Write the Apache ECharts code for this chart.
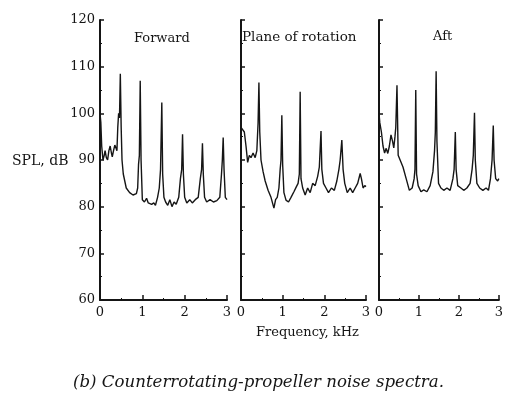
<!DOCTYPE html>
<html>
<head>
<meta charset="utf-8">
<script src="https://cdn.jsdelivr.net/npm/echarts@6/dist/echarts.min.js"></script>
<style>
  html, body { margin: 0; padding: 0; background: #ffffff; }
  #chart { width: 506px; height: 399px; }
</style>
</head>
<body>
<div id="chart"></div>
<script>
// ---- data ----
const panelTitles = ['Forward', 'Plane of rotation', 'Aft'];
const yTicks = [60, 70, 80, 90, 100, 110, 120];
const xTicks = [0, 1, 2, 3];

const forwardFreq = [0, 0.02, 0.04, 0.07, 0.10, 0.12, 0.15, 0.18, 0.21, 0.24, 0.27, 0.29, 0.32, 0.35, 0.38, 0.40, 0.42, 0.44, 0.46, 0.48, 0.50, 0.52, 0.55, 0.62, 0.70, 0.78, 0.86, 0.89, 0.91, 0.93, 0.95, 0.97, 1.00, 1.05, 1.10, 1.14, 1.18, 1.22, 1.27, 1.31, 1.36, 1.40, 1.43, 1.46, 1.48, 1.51, 1.55, 1.60, 1.65, 1.70, 1.75, 1.80, 1.86, 1.90, 1.93, 1.95, 1.97, 2.00, 2.05, 2.12, 2.18, 2.25, 2.32, 2.37, 2.40, 2.42, 2.44, 2.47, 2.52, 2.60, 2.68, 2.76, 2.83, 2.87, 2.89, 2.91, 2.93, 2.96, 3.00];
const forwardSpl  = [100, 98, 93, 90, 91, 92, 90.5, 90, 92, 93, 91.5, 90.7, 92, 93.2, 92.5, 92, 97, 100, 99, 108.5, 97, 90, 87, 84, 83, 82.5, 82.8, 84, 89, 91, 107, 90, 81.5, 81, 81.8, 80.8, 81.2, 80.5, 80.8, 80.3, 82, 84, 88, 102.3, 87, 82, 81, 80.3, 81.5, 80, 81, 80.5, 82, 86, 88, 95.5, 87, 82, 80.8, 81.5, 80.8, 81.5, 82, 86, 88, 93.6, 87, 82, 81, 81.5, 81, 81.3, 82, 87, 90, 94.8, 88, 82, 81.5];

const planeFreq = [0, 0.03, 0.08, 0.12, 0.16, 0.20, 0.24, 0.29, 0.34, 0.38, 0.41, 0.43, 0.45, 0.48, 0.53, 0.58, 0.65, 0.72, 0.79, 0.83, 0.87, 0.91, 0.94, 0.96, 0.98, 1.00, 1.03, 1.08, 1.14, 1.20, 1.27, 1.33, 1.37, 1.40, 1.42, 1.44, 1.48, 1.54, 1.60, 1.66, 1.72, 1.78, 1.84, 1.88, 1.92, 1.94, 1.98, 2.04, 2.10, 2.17, 2.24, 2.30, 2.35, 2.38, 2.42, 2.45, 2.49, 2.55, 2.62, 2.68, 2.74, 2.80, 2.86, 2.89, 2.93, 2.97, 3.00];
const planeSpl  = [97, 96.8, 96, 93, 89.5, 91, 90.5, 91.5, 90.5, 92, 98, 106.6, 96, 90, 87.5, 85.5, 83.5, 82, 79.7, 81.5, 82, 84, 88, 90, 99.6, 89, 83, 81.4, 81, 82, 83.2, 84.3, 85, 87, 104.6, 86, 84, 82.5, 84, 83, 85, 84.5, 86.5, 88.5, 96.2, 88, 85, 84, 83, 84, 83.5, 85.5, 88, 90, 94.3, 88, 85, 83, 84, 83, 84, 85, 87.1, 86, 84, 84.5, 84.3];

const aftFreq = [0, 0.02, 0.06, 0.10, 0.14, 0.18, 0.22, 0.26, 0.30, 0.34, 0.37, 0.40, 0.42, 0.45, 0.48, 0.52, 0.60, 0.68, 0.76, 0.83, 0.88, 0.90, 0.92, 0.94, 0.98, 1.05, 1.12, 1.20, 1.28, 1.35, 1.39, 1.41, 1.43, 1.45, 1.49, 1.55, 1.62, 1.70, 1.78, 1.85, 1.88, 1.91, 1.93, 1.97, 2.05, 2.12, 2.20, 2.28, 2.33, 2.36, 2.39, 2.41, 2.45, 2.52, 2.60, 2.68, 2.74, 2.79, 2.83, 2.86, 2.88, 2.92, 2.97, 3.00];
const aftSpl  = [100, 98, 96, 93, 91.5, 92.5, 91.4, 93, 95.4, 94, 92.6, 95, 97, 106, 91, 90.7, 88.5, 86, 83.5, 84, 86, 88, 105, 87, 84.5, 83.2, 83.6, 83.2, 84.5, 87.5, 92, 96, 109, 94, 85, 84, 83.5, 84, 83.5, 86, 88, 96, 88, 84.5, 84, 83.5, 84, 85, 88, 91, 100.1, 90, 85, 84, 83.5, 84, 83.5, 86, 90, 97.4, 90, 86, 85.5, 86];

// ---- chart ----
const FONT = 'DejaVu Serif';
const INK = '#151515';
const grids = [
  { left: 100, top: 20, width: 127, height: 280 },
  { left: 241, top: 20, width: 125, height: 280 },
  { left: 379, top: 20, width: 126, height: 280 }
];
const seriesFreq = [forwardFreq, planeFreq, aftFreq];
const seriesSpl = [forwardSpl, planeSpl, aftSpl];

const xAxes = grids.map((g, i) => ({
  type: 'value', gridIndex: i,
  min: xTicks[0], max: xTicks[xTicks.length - 1], interval: 1,
  axisLine: { show: true, onZero: false, lineStyle: { color: INK, width: 2 } },
  axisTick: { show: true, inside: true, length: 5, lineStyle: { color: INK, width: 1.5 } },
  minorTick: { show: true, splitNumber: 2, length: 2, lineStyle: { color: INK, width: 1 } },
  axisLabel: { show: true, margin: 6, fontFamily: FONT, fontSize: 13, color: INK,
    formatter: v => String(v) },
  splitLine: { show: false }
}));

const yAxes = grids.map((g, i) => ({
  type: 'value', gridIndex: i,
  min: yTicks[0], max: yTicks[yTicks.length - 1], interval: 10,
  axisLine: { show: true, onZero: false, lineStyle: { color: INK, width: 2 } },
  axisTick: { show: true, inside: true, length: 4, lineStyle: { color: INK, width: 1.5 } },
  minorTick: { show: true, splitNumber: 2, length: 2, lineStyle: { color: INK, width: 1 } },
  axisLabel: { show: i === 0, margin: 5, fontFamily: FONT, fontSize: 13, color: INK },
  splitLine: { show: false }
}));

const series = seriesFreq.map((f, i) => ({
  type: 'line', xAxisIndex: i, yAxisIndex: i,
  data: f.map((x, k) => [x, seriesSpl[i][k]]),
  showSymbol: false, symbol: 'none', smooth: false,
  lineStyle: { color: INK, width: 1.4 },
  clip: true, silent: true, animation: false
}));

const textStyle = (extra) => Object.assign({ fontFamily: FONT, fontSize: 13, fill: INK }, extra);

const option = {
  backgroundColor: '#ffffff',
  animation: false,
  grid: grids,
  xAxis: xAxes,
  yAxis: yAxes,
  series: series,
  graphic: [
    { type: 'text', left: 134, top: 32, style: textStyle({ text: panelTitles[0] }) },
    { type: 'text', left: 242, top: 30, style: textStyle({ text: panelTitles[1], fontSize: 13.5 }) },
    { type: 'text', left: 433, top: 30, style: textStyle({ text: panelTitles[2] }) },
    { type: 'text', left: 12, top: 154, style: textStyle({ text: 'SPL, dB', fontSize: 14 }) },
    { type: 'text', left: 256, top: 326, style: textStyle({ text: 'Frequency, kHz' }) },
    { type: 'text', left: 73, top: 374, style: textStyle({ text: '(b) Counterrotating-propeller noise spectra.', fontSize: 16.6, fontStyle: 'italic' }) }
  ]
};

const chart = echarts.init(document.getElementById('chart'), null, { renderer: 'canvas' });
chart.setOption(option);
</script>
</body>
</html>
